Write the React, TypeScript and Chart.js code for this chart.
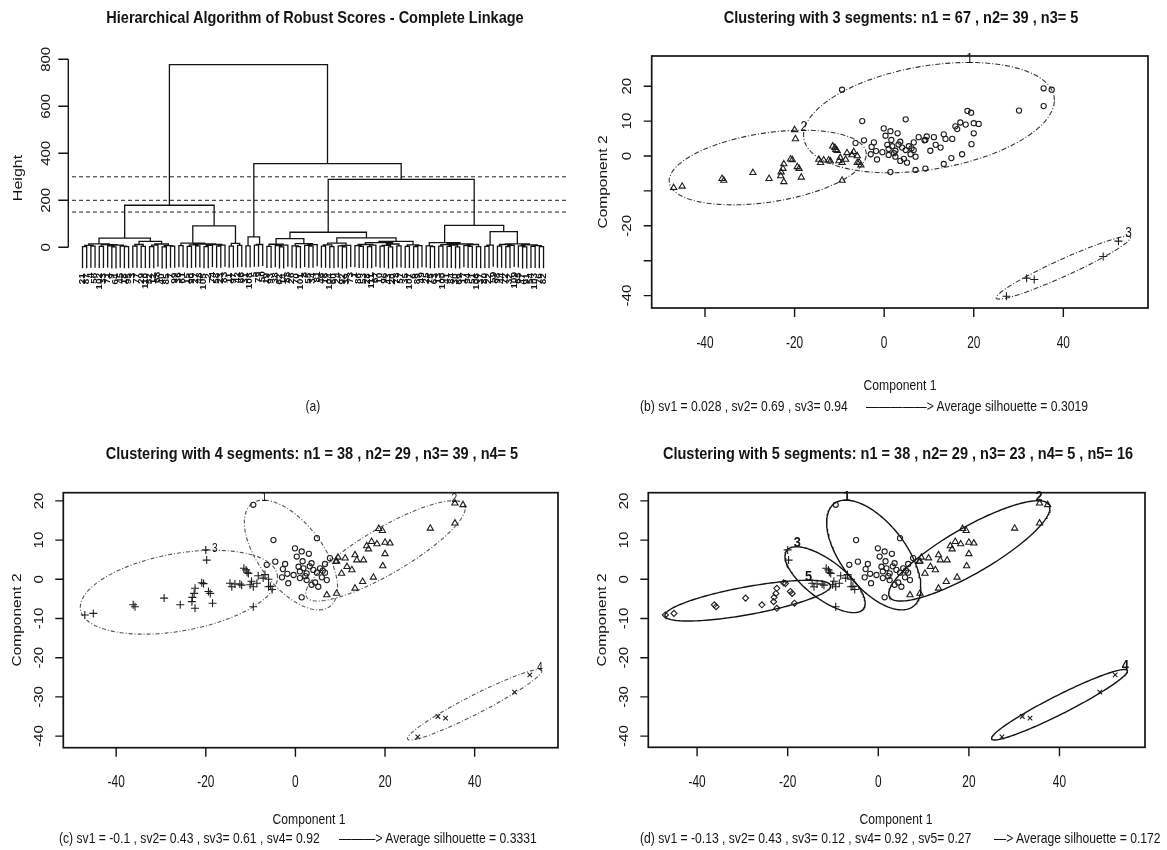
import React, { useEffect, useRef } from "react";
import { Chart, registerables } from "chart.js";
Chart.register(...registerables);

const FONT = '"Liberation Sans", Arial, Helvetica, sans-serif';
const PAGE_W = 1167;
const PAGE_H = 850;
const INK = "#141414";

// ---------------- DATA ----------------
// (a) dendrogram: merge height between consecutive leaves (in leaf order)
const leafGaps = [
  3, 8, 5, 15, 4, 11, 6, 2, 9, 5, 3, 39, 5, 12, 4, 25, 3, 9, 14, 2, 7, 5, 179,
  7, 18, 4, 10, 6, 14, 3, 8, 12, 5, 9, 91, 5, 17, 8, 777,
  6, 44, 9, 12, 356,
  4, 13, 7, 2, 9, 37, 6, 3, 16, 8, 5, 11, 64, 5, 10, 3, 18, 6, 2, 8, 40, 7, 4, 12, 3, 9, 20, 5, 8, 2, 14, 6, 25, 4, 10, 3, 7, 289,
  6, 3, 20, 5, 11, 4, 9, 2, 14, 7, 4, 12, 3, 93, 4, 9, 67, 5, 12, 3, 8, 15, 6, 2, 10, 4, 7, 3,
];
const leafLabels = [
  21, 87, 4, 56, 102, 33, 71, 9, 64, 45, 18, 95, 3, 77, 29, 110, 52, 12, 68, 40,
  85, 7, 99, 36, 61, 15, 90, 27, 48, 105, 2, 74, 58, 23, 83, 11, 97, 42, 66, 31,
  108, 5, 79, 50, 19, 93, 38, 62, 14, 88, 26, 70, 101, 8, 55, 34, 81, 46, 16, 104,
  60, 24, 92, 39, 73, 1, 86, 53, 28, 111, 67, 10, 96, 43, 20, 78, 57, 35, 107, 6,
  89, 49, 25, 75, 63, 13, 100, 41, 84, 30, 69, 17, 94, 51, 106, 37, 80, 22, 59, 98,
  44, 72, 32, 109, 65, 47, 91, 54, 103, 76, 82,
];
const heightTicks = [0, 200, 400, 600, 800];
const cutHeights = [300, 200, 150];

// principal component scores, by group of observations
const a5X = [-47.0, -45.1, -36.2, -35.8, -29.3, -25.7, -23.1, -22.6, -22.4, -22.4, -20.9, -20.5, -19.4, -19.0, -18.5, -23.0];
const a5Y = [-9.1, -8.7, -6.5, -7.0, -4.8, -6.5, -5.7, -3.6, -2.3, -7.4, -0.9, -1.1, -3.1, -3.6, -6.1, -4.6];
const a3X = [-20.0, -19.8, -14.6, -14.2, -13.5, -12.4, -11.0, -10.8, -10.5, -10.1, -9.4, -9.4, -8.6, -8.3, -9.8, -6.0, -6.0, -5.2, -6.8, -11.5, -12.0, -7.2, -5.6];
const a3Y = [7.5, 4.9, -1.0, -1.9, -1.2, -1.2, 2.4, 1.8, 1.5, -1.4, -1.9, -7.0, -1.0, 0.9, -0.5, 0.0, -1.9, -2.6, 1.2, 2.8, -1.5, 0.3, -1.8];
const b2aX = [-9.4, -4.9, 1.4, 0.3, -2.3, -1.8, 0.7, 1.0, 1.8, 2.5, 3.6, 4.0, 4.8, 5.5, 6.6, 6.6, 3.6, 5.1, 1.4, 4.8, 1.0, -0.4, 2.5, 7.7, 7.0, -1.6, -4.5, -6.4, -0.1, 3.0, -3.0, 2.2, 5.9, 4.4, -2.8, 6.1, 1.6, 3.2];
const b2aY = [19.0, 10.0, 7.1, 5.8, 3.9, 1.4, 3.2, 2.0, 2.8, 1.5, 4.1, 2.4, 1.7, 2.8, 3.9, 1.7, -1.4, -1.9, -4.6, 10.5, 0.3, 1.1, -0.2, 5.4, -0.2, -1.0, 4.5, 3.7, 7.9, 6.5, 0.5, 0.8, 0.5, -0.8, 2.6, 2.2, 4.6, 3.3];
const b2bX = [30.1, 18.6, 19.4, 35.6, 37.4, 35.6, 15.9, 18.2, 20.0, 21.1, 20.0, 19.5, 15.2, 13.3, 11.1, 11.5, 12.6, 9.5, 9.2, 17.4, 15.0, 13.3, 9.2, 7.0, 10.3, 13.7, 16.3, 9.0, 17.0];
const b2bY = [13.0, 12.9, 12.4, 19.4, 19.0, 14.3, 8.5, 9.0, 9.4, 9.2, 6.5, 3.4, 4.9, 6.2, 5.4, 3.2, 2.4, 5.6, 4.6, 0.5, -0.6, -2.3, -3.6, -4.0, 1.5, 4.9, 7.7, 4.5, 9.6];
const b1X = [27.3, 31.8, 33.5, 48.9, 52.3];
const b1Y = [-40.2, -35.0, -35.4, -28.8, -24.4];

// cluster ellipses: [centre x, centre y, half-width x, half-height y, y-offset at the x extreme]
type Ell = [number, number, number, number, number];
const ellipseA: Ell = [-26.0, -3.3, 22.0, 10.7, 3.8];
const ellipseB2: Ell = [10.0, 11.0, 28.0, 15.8, 5.0];
const ellipseB1: Ell = [40.0, -32.0, 15.0, 9.0, 8.6];
const ellipseB2a: Ell = [-1.0, 6.2, 10.4, 14.0, -8.3];
const ellipseB2b: Ell = [20.1, 7.25, 17.8, 12.8, 10.9];
const ellipseA3: Ell = [-11.75, -0.1, 8.85, 8.4, -6.0];
const ellipseA5: Ell = [-28.8, -5.45, 18.3, 5.2, 3.75];

const xTicks = [-40, -20, 0, 20, 40];
const yTicks = [20, 10, 0, -10, -20, -30, -40];
const yTickLabels3 = [20, 10, 0, -20, -40];
const yTickLabels45 = [20, 10, 0, -10, -20, -30, -40];

const groupData: Record<string, [number[], number[]]> = {
  A5: [a5X, a5Y],
  A3: [a3X, a3Y],
  B2a: [b2aX, b2aY],
  B2b: [b2bX, b2bY],
  B1: [b1X, b1Y],
};

// ---------------- helpers ----------------
const LEAF_HANG = 92;
type DNode = { x: number; h: number; leaf: boolean; idx: number; left?: DNode; right?: DNode };

function buildTree(lo: number, hi: number): DNode {
  if (lo === hi) return { x: lo + 1, h: 0, leaf: true, idx: lo };
  let k = lo;
  for (let i = lo; i < hi; i++) if (leafGaps[i] > leafGaps[k]) k = i;
  const left = buildTree(lo, k);
  const right = buildTree(k + 1, hi);
  return { x: (left.x + right.x) / 2, h: leafGaps[k], leaf: false, idx: -1, left, right };
}

function collectLinks(n: DNode, out: any[], leaves: { x: number; y: number; idx: number }[]) {
  if (n.leaf || !n.left || !n.right) return;
  const L = n.left;
  const R = n.right;
  const yL = L.leaf ? n.h - LEAF_HANG : L.h;
  const yR = R.leaf ? n.h - LEAF_HANG : R.h;
  out.push({ x: L.x, y: yL }, { x: L.x, y: n.h }, { x: R.x, y: n.h }, { x: R.x, y: yR }, { x: null, y: null });
  if (L.leaf) leaves.push({ x: L.x, y: yL, idx: L.idx });
  if (R.leaf) leaves.push({ x: R.x, y: yR, idx: R.idx });
  collectLinks(L, out, leaves);
  collectLinks(R, out, leaves);
}

function ellipsePoints(e: Ell) {
  const [cx, cy, rx, ry, k] = e;
  const m = Math.sqrt(Math.max(ry * ry - k * k, 0));
  const pts: { x: number; y: number }[] = [];
  const N = 180;
  for (let i = 0; i <= N; i++) {
    const t = (i / N) * 2 * Math.PI;
    pts.push({ x: cx + rx * Math.cos(t), y: cy + k * Math.cos(t) + m * Math.sin(t) });
  }
  return pts;
}
function ellipseTop(e: Ell) {
  const [cx, cy, rx, ry, k] = e;
  return { x: cx + (k * rx) / ry, y: cy + ry };
}

function drawVText(ctx: CanvasRenderingContext2D, text: string, x: number, y: number, squash: number) {
  ctx.save();
  ctx.translate(x, y);
  ctx.scale(squash, 1);
  ctx.rotate(-Math.PI / 2);
  ctx.fillText(text, 0, 0);
  ctx.restore();
}
function drawHText(ctx: CanvasRenderingContext2D, text: string, x: number, y: number, squash: number) {
  ctx.save();
  ctx.translate(x, y);
  ctx.scale(squash, 1);
  ctx.fillText(text, 0, 0);
  ctx.restore();
}

// ---------------- charts ----------------
const DEND = { l: 72, r: 567, yMin: -100, yMax: 820, top: 54.6, bottom: 270.8, xMin: -1.505, xMax: 116.6 };

function makeDendrogram(canvas: HTMLCanvasElement) {
  const root = buildTree(0, leafGaps.length);
  const links: any[] = [];
  const leaves: { x: number; y: number; idx: number }[] = [];
  collectLinks(root, links, leaves);

  const plugin = {
    id: "dendroAxes",
    afterDraw(chart: any) {
      const { ctx, chartArea: a } = chart;
      const ys = chart.scales.y;
      const xs = chart.scales.x;
      ctx.save();
      ctx.strokeStyle = INK;
      ctx.fillStyle = INK;
      ctx.lineWidth = 1.4;
      const ax = a.left - 3.7;
      ctx.beginPath();
      ctx.moveTo(ax, ys.getPixelForValue(heightTicks[0]));
      ctx.lineTo(ax, ys.getPixelForValue(heightTicks[heightTicks.length - 1]));
      for (const v of heightTicks) {
        const py = ys.getPixelForValue(v);
        ctx.moveTo(ax, py);
        ctx.lineTo(ax - 10, py);
      }
      ctx.stroke();
      ctx.font = `15px ${FONT}`;
      ctx.textAlign = "center";
      ctx.textBaseline = "middle";
      for (const v of heightTicks) drawVText(ctx, String(v), ax - 21.6, ys.getPixelForValue(v), 0.8);
      ctx.font = `bold 10px ${FONT}`;
      ctx.textAlign = "right";
      for (const lf of leaves) {
        const px = xs.getPixelForValue(lf.x);
        const py = ys.getPixelForValue(lf.y) + 5;
        drawVText(ctx, String(leafLabels[lf.idx]), px, py, 0.85);
      }
      ctx.restore();
    },
  };

  return new Chart(canvas, {
    type: "scatter",
    data: {
      datasets: [
        { data: links, showLine: true, borderColor: INK, borderWidth: 1.3, pointRadius: 0, spanGaps: false } as any,
        ...cutHeights.map((h) => ({
          data: [
            { x: DEND.xMin, y: h },
            { x: DEND.xMax, y: h },
          ],
          showLine: true,
          borderColor: "#222",
          borderWidth: 1,
          borderDash: [4, 3],
          pointRadius: 0,
        })),
      ],
    },
    options: {
      animation: false,
      responsive: false,
      devicePixelRatio: 1,
      events: [],
      layout: { padding: { left: DEND.l, right: PAGE_W - DEND.r, top: DEND.top, bottom: PAGE_H - DEND.bottom } },
      plugins: { legend: { display: false }, tooltip: { enabled: false } },
      scales: {
        x: { type: "linear", display: false, min: DEND.xMin, max: DEND.xMax },
        y: { type: "linear", display: false, min: DEND.yMin, max: DEND.yMax },
      },
    } as any,
    plugins: [plugin],
  });
}

type Panel = {
  key: string;
  frame: { l: number; t: number; r: number; b: number };
  xRange: [number, number];
  yRange: [number, number];
  yLabels: number[];
  clusters: { groups: string[]; ell: Ell }[];
  ellColor: string;
  ellWidth: number;
  ellDash: number[];
  labelFont: string;
};

const panels: Panel[] = [
  {
    key: "b",
    frame: { l: 651.7, t: 56, r: 1148, b: 308 },
    xRange: [-51.9, 58.9],
    yRange: [-43.55, 28.65],
    yLabels: yTickLabels3,
    clusters: [
      { groups: ["B2a", "B2b"], ell: ellipseB2 },
      { groups: ["A5", "A3"], ell: ellipseA },
      { groups: ["B1"], ell: ellipseB1 },
    ],
    ellColor: "#333333",
    ellWidth: 1.1,
    ellDash: [5, 2, 1, 2],
    labelFont: `14px ${FONT}`,
  },
  {
    key: "c",
    frame: { l: 63.3, t: 492.7, r: 558, b: 747.7 },
    xRange: [-51.8, 58.6],
    yRange: [-42.96, 22.09],
    yLabels: yTickLabels45,
    clusters: [
      { groups: ["B2a"], ell: ellipseB2a },
      { groups: ["B2b"], ell: ellipseB2b },
      { groups: ["A5", "A3"], ell: ellipseA },
      { groups: ["B1"], ell: ellipseB1 },
    ],
    ellColor: "#555555",
    ellWidth: 1.1,
    ellDash: [4, 2, 1, 2],
    labelFont: `12px ${FONT}`,
  },
  {
    key: "d",
    frame: { l: 648.3, t: 492.7, r: 1145, b: 747.3 },
    xRange: [-50.77, 58.88],
    yRange: [-42.86, 22.09],
    yLabels: yTickLabels45,
    clusters: [
      { groups: ["B2a"], ell: ellipseB2a },
      { groups: ["B2b"], ell: ellipseB2b },
      { groups: ["A3"], ell: ellipseA3 },
      { groups: ["B1"], ell: ellipseB1 },
      { groups: ["A5"], ell: ellipseA5 },
    ],
    ellColor: "#141414",
    ellWidth: 1.4,
    ellDash: [],
    labelFont: `bold 15px ${FONT}`,
  },
];

const POINT_STYLES = ["circle", "triangle", "cross", "crossRot", "rectRot"];
const POINT_RADII = [2.6, 3.6, 4.0, 3.2, 3.0];

function makeScatter(canvas: HTMLCanvasElement, p: Panel) {
  const datasets: any[] = [];
  p.clusters.forEach((cl, i) => {
    const pts: { x: number; y: number }[] = [];
    cl.groups.forEach((g) => {
      const [xs, ys] = groupData[g];
      xs.forEach((x, j) => pts.push({ x, y: ys[j] }));
    });
    datasets.push({
      data: pts,
      showLine: false,
      pointStyle: POINT_STYLES[i],
      pointRadius: POINT_RADII[i],
      pointBorderColor: "#1e1e1e",
      pointBackgroundColor: "rgba(0,0,0,0)",
      pointBorderWidth: 1.1,
    });
    datasets.push({
      data: ellipsePoints(cl.ell),
      showLine: true,
      pointRadius: 0,
      borderColor: p.ellColor,
      borderWidth: p.ellWidth,
      borderDash: p.ellDash,
      fill: false,
    });
  });

  const plugin = {
    id: "rAxes" + p.key,
    afterDraw(chart: any) {
      const { ctx, chartArea: a } = chart;
      const xs = chart.scales.x;
      const ys = chart.scales.y;
      ctx.save();
      ctx.strokeStyle = INK;
      ctx.fillStyle = INK;
      ctx.lineWidth = 1.7;
      ctx.strokeRect(a.left, a.top, a.right - a.left, a.bottom - a.top);
      ctx.lineWidth = 1.4;
      ctx.beginPath();
      for (const v of xTicks) {
        const px = xs.getPixelForValue(v);
        ctx.moveTo(px, a.bottom);
        ctx.lineTo(px, a.bottom + 9);
      }
      for (const v of yTicks) {
        const py = ys.getPixelForValue(v);
        ctx.moveTo(a.left, py);
        ctx.lineTo(a.left - 8, py);
      }
      ctx.stroke();
      ctx.textAlign = "center";
      ctx.textBaseline = "middle";
      ctx.font = `16.5px ${FONT}`;
      for (const v of xTicks) drawHText(ctx, String(v), xs.getPixelForValue(v), a.bottom + 35, 0.72);
      ctx.font = `15px ${FONT}`;
      for (const v of p.yLabels) drawVText(ctx, String(v), a.left - 24, ys.getPixelForValue(v), 0.8);
      ctx.font = p.labelFont;
      ctx.textBaseline = "bottom";
      p.clusters.forEach((cl, i) => {
        const tp = ellipseTop(cl.ell);
        drawHText(ctx, String(i + 1), xs.getPixelForValue(tp.x) + 1, ys.getPixelForValue(tp.y) + 4, 0.85);
      });
      ctx.restore();
    },
  };

  return new Chart(canvas, {
    type: "scatter",
    data: { datasets },
    options: {
      animation: false,
      responsive: false,
      devicePixelRatio: 1,
      events: [],
      layout: {
        padding: { left: p.frame.l, top: p.frame.t, right: PAGE_W - p.frame.r, bottom: PAGE_H - p.frame.b },
      },
      plugins: { legend: { display: false }, tooltip: { enabled: false } },
      scales: {
        x: { type: "linear", display: false, min: p.xRange[0], max: p.xRange[1] },
        y: { type: "linear", display: false, min: p.yRange[0], max: p.yRange[1] },
      },
    } as any,
    plugins: [plugin],
  });
}

// ---------------- components ----------------
function ChartCanvas({ build }: { build: (c: HTMLCanvasElement) => Chart }) {
  const ref = useRef<HTMLCanvasElement>(null);
  useEffect(() => {
    const ch = build(ref.current as HTMLCanvasElement);
    return () => ch.destroy();
  }, []);
  return (
    <canvas
      ref={ref}
      width={PAGE_W}
      height={PAGE_H}
      style={{ position: "absolute", left: 0, top: 0, width: PAGE_W, height: PAGE_H }}
    />
  );
}

type TextSpec = { x: number; y: number; text: string; size: number; bold?: boolean; sx?: number; rot?: boolean; left?: boolean };

function Txt({ x, y, text, size, bold, sx = 0.81, rot, left }: TextSpec) {
  const st: React.CSSProperties = {
    position: "absolute",
    left: x,
    top: y,
    whiteSpace: "pre",
    fontFamily: FONT,
    fontSize: size,
    fontWeight: bold ? 700 : 400,
    color: INK,
    lineHeight: 1,
  };
  if (left) {
    st.transformOrigin = "left center";
    st.transform = `translateY(-50%) scaleX(${sx})`;
  } else {
    st.transform = `translate(-50%, -50%) scaleX(${sx})${rot ? " rotate(-90deg)" : ""}`;
  }
  return <div style={st}>{text}</div>;
}

const texts: TextSpec[] = [
  { x: 314.5, y: 17, text: "Hierarchical Algorithm of Robust Scores - Complete Linkage", size: 16.5, bold: true, sx: 0.88 },
  { x: 901, y: 17, text: "Clustering with 3 segments: n1 = 67 , n2= 39 , n3= 5", size: 16.5, bold: true, sx: 0.88 },
  { x: 311.7, y: 453, text: "Clustering with 4 segments: n1 = 38 , n2= 29 , n3= 39 , n4= 5", size: 16.5, bold: true, sx: 0.88 },
  { x: 898, y: 453, text: "Clustering with 5 segments: n1 = 38 , n2= 29 , n3= 23 , n4= 5 , n5= 16", size: 16.5, bold: true, sx: 0.88 },
  { x: 312.6, y: 405, text: "(a)", size: 15 },
  { x: 18.3, y: 178, text: "Height", size: 16, rot: true, sx: 0.8 },
  { x: 900, y: 384, text: "Component 1", size: 15 },
  { x: 309, y: 818, text: "Component 1", size: 15 },
  { x: 896, y: 818, text: "Component 1", size: 15 },
  { x: 602.5, y: 182, text: "Component 2", size: 15.5, rot: true, sx: 0.8 },
  { x: 16.6, y: 620, text: "Component 2", size: 15.5, rot: true, sx: 0.8 },
  { x: 602, y: 620, text: "Component 2", size: 15.5, rot: true, sx: 0.8 },
  { x: 640, y: 405, text: "(b) sv1 = 0.028 , sv2= 0.69 , sv3= 0.94", size: 15, left: true },
  { x: 866, y: 405, text: "—————> Average silhouette = 0.3019", size: 15, left: true },
  { x: 59, y: 837, text: "(c) sv1 = -0.1 , sv2= 0.43 , sv3= 0.61 , sv4= 0.92", size: 15, left: true },
  { x: 338.5, y: 837, text: "———> Average silhouette = 0.3331", size: 15, left: true },
  { x: 640, y: 837, text: "(d) sv1 = -0.13 , sv2= 0.43 , sv3= 0.12 , sv4= 0.92 , sv5= 0.27", size: 15, left: true },
  { x: 994, y: 837, text: "—> Average silhouette = 0.172", size: 15, left: true },
];

export default function App() {
  return (
    <div
      style={{
        position: "fixed",
        left: 0,
        top: 0,
        width: PAGE_W,
        height: PAGE_H,
        background: "#ffffff",
        overflow: "hidden",
      }}
    >
      <ChartCanvas build={makeDendrogram} />
      {panels.map((p) => (
        <ChartCanvas key={p.key} build={(c) => makeScatter(c, p)} />
      ))}
      {texts.map((t, i) => (
        <Txt key={i} {...t} />
      ))}
    </div>
  );
}
